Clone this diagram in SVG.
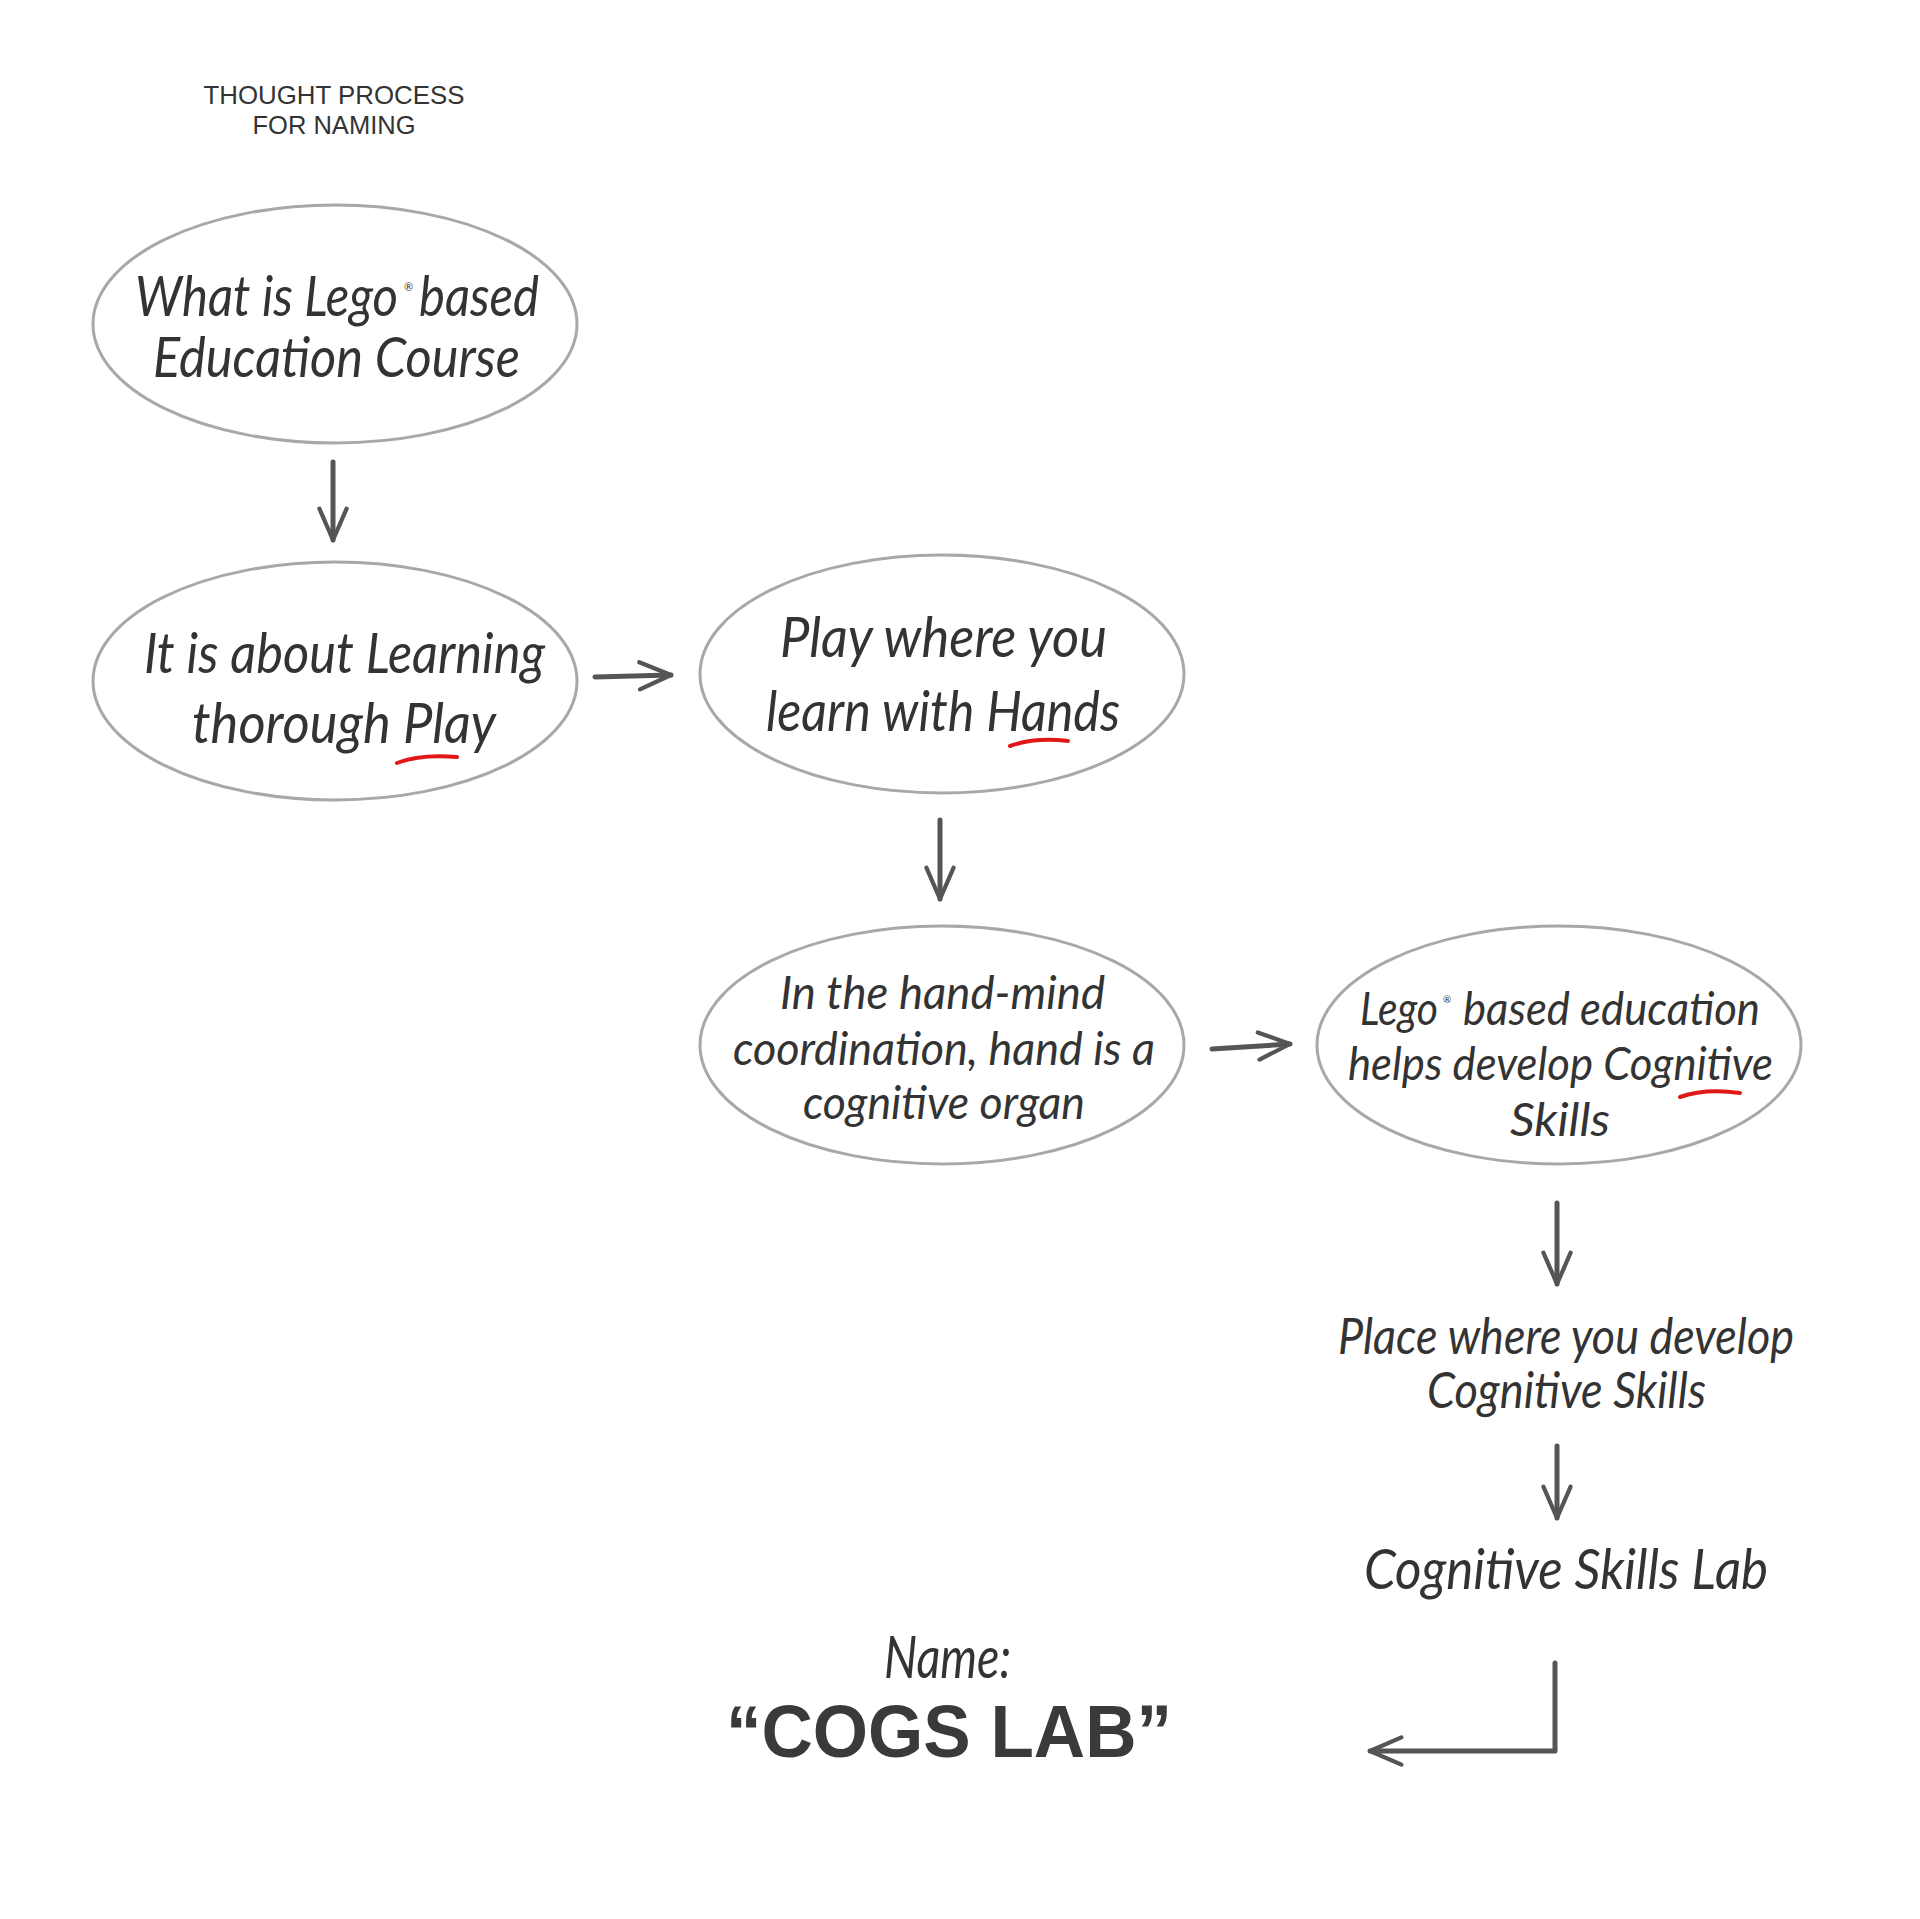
<svg xmlns="http://www.w3.org/2000/svg" width="1920" height="1919" viewBox="0 0 1920 1919">
<style>
.bg{fill:#ffffff}
.node{fill:#ffffff;stroke:#a8a8a8;stroke-width:3}
.s{font-family:Lato,"Open Sans","Noto Sans",sans-serif;font-style:italic;fill:#333333}
.r{font-family:Lato,"Open Sans","Noto Sans",sans-serif;fill:#333333}
.t{font-family:"Liberation Sans",Arial,sans-serif;fill:#333333}
.b{font-family:"Liberation Sans",Arial,sans-serif;font-weight:bold;fill:#3a3a3a}
.c{fill:none;stroke:#555555;stroke-width:5;stroke-linecap:round;stroke-linejoin:round}
.red{fill:none;stroke:#e01818;stroke-width:4;stroke-linecap:round}
</style>
<defs>
<marker id="ah" markerUnits="userSpaceOnUse" markerWidth="44" markerHeight="44" viewBox="-36 -20 42 40" refX="0" refY="0" orient="auto">
<path d="M-30,-13 L0,0 L-30,13" fill="none" stroke="#555555" stroke-width="4" stroke-linecap="round" stroke-linejoin="round"/>
</marker>
</defs>
<rect class="bg" x="0" y="0" width="1920" height="1919"/>

<g id="title">
<text class="t" x="334" y="104" font-size="26" text-anchor="middle" textLength="261" lengthAdjust="spacingAndGlyphs">THOUGHT PROCESS</text>
<text class="t" x="334" y="134" font-size="26" text-anchor="middle" textLength="163" lengthAdjust="spacingAndGlyphs">FOR NAMING</text>
</g>

<g id="node-1">
<ellipse class="node" cx="335" cy="324" rx="242" ry="119"/>
<text class="s" x="135" y="316" font-size="56" textLength="263" lengthAdjust="spacingAndGlyphs">What is Lego</text>
<text class="r" x="404" y="291" font-size="11">®</text>
<text class="s" x="419" y="316" font-size="56" textLength="120" lengthAdjust="spacingAndGlyphs">based</text>
<text class="s" x="153" y="377" font-size="56" textLength="367" lengthAdjust="spacingAndGlyphs">Education Course</text>
</g>

<g id="node-2">
<ellipse class="node" cx="335" cy="681" rx="242" ry="119"/>
<text class="s" x="144" y="673" font-size="56" textLength="401" lengthAdjust="spacingAndGlyphs">It is about Learning</text>
<text class="s" x="192" y="743" font-size="56" textLength="304" lengthAdjust="spacingAndGlyphs">thorough Play</text>
<path class="red" d="M397,763 Q420,754 457,757"/>
</g>

<g id="node-3">
<ellipse class="node" cx="942" cy="674" rx="242" ry="119"/>
<text class="s" x="780" y="657" font-size="56" textLength="327" lengthAdjust="spacingAndGlyphs">Play where you</text>
<text class="s" x="766" y="731" font-size="56" textLength="354" lengthAdjust="spacingAndGlyphs">learn with Hands</text>
<path class="red" d="M1010,746 Q1035,737 1068,741"/>
</g>

<g id="node-4">
<ellipse class="node" cx="942" cy="1045" rx="242" ry="119"/>
<text class="s" x="780" y="1009" font-size="46" textLength="325" lengthAdjust="spacingAndGlyphs">In the hand-mind</text>
<text class="s" x="733" y="1065" font-size="46" textLength="422" lengthAdjust="spacingAndGlyphs">coordination, hand is a</text>
<text class="s" x="803" y="1119" font-size="46" textLength="282" lengthAdjust="spacingAndGlyphs">cognitive organ</text>
</g>

<g id="node-5">
<ellipse class="node" cx="1559" cy="1045" rx="242" ry="119"/>
<text class="s" x="1360" y="1025" font-size="46" textLength="78" lengthAdjust="spacingAndGlyphs">Lego</text>
<text class="r" x="1443" y="1003" font-size="10">®</text>
<text class="s" x="1463" y="1025" font-size="46" textLength="297" lengthAdjust="spacingAndGlyphs">based education</text>
<text class="s" x="1348" y="1080" font-size="46" textLength="425" lengthAdjust="spacingAndGlyphs">helps develop Cognitive</text>
<text class="s" x="1510" y="1136" font-size="46" textLength="100" lengthAdjust="spacingAndGlyphs">Skills</text>
<path class="red" d="M1680,1097 Q1705,1088 1740,1093"/>
</g>

<g id="node-place">
<text class="s" x="1338" y="1354" font-size="50" textLength="456" lengthAdjust="spacingAndGlyphs">Place where you develop</text>
<text class="s" x="1427" y="1408" font-size="50" textLength="279" lengthAdjust="spacingAndGlyphs">Cognitive Skills</text>
</g>

<g id="node-lab">
<text class="s" x="1364" y="1589" font-size="56" textLength="404" lengthAdjust="spacingAndGlyphs">Cognitive Skills Lab</text>
</g>

<g id="node-name">
<text class="s" x="884" y="1678" font-size="58" textLength="127" lengthAdjust="spacingAndGlyphs">Name:</text>
<text class="b" x="949" y="1757" font-size="74" text-anchor="middle" textLength="446" lengthAdjust="spacingAndGlyphs">“COGS LAB”</text>
</g>

<g id="connectors">
<path class="c" d="M333,462 L333,540" marker-end="url(#ah)"/>
<path class="c" d="M595,677 L671,675" marker-end="url(#ah)"/>
<path class="c" d="M940,820 L940,899" marker-end="url(#ah)"/>
<path class="c" d="M1212,1049 L1290,1044" marker-end="url(#ah)"/>
<path class="c" d="M1557,1203 L1557,1284" marker-end="url(#ah)"/>
<path class="c" d="M1557,1446 L1557,1518" marker-end="url(#ah)"/>
<path class="c" d="M1555,1663 L1555,1751 L1370,1751" marker-end="url(#ah)" stroke-width="6"/>
</g>
</svg>
